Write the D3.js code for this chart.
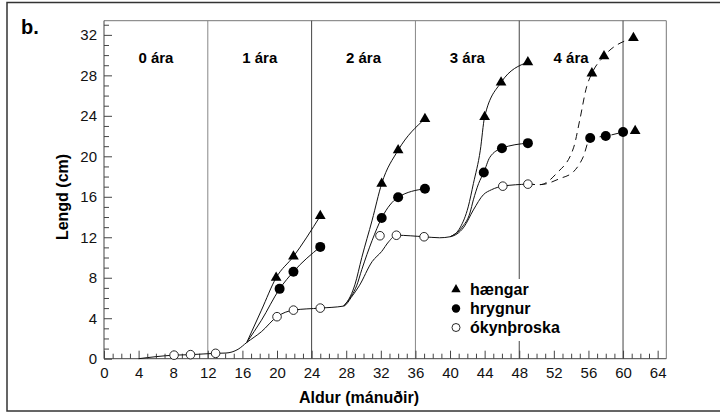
<!DOCTYPE html>
<html><head><meta charset="utf-8">
<script src="https://cdn.jsdelivr.net/npm/d3@7"></script>
<style>
html,body{margin:0;padding:0;background:#fff;}
svg{display:block;font-family:"Liberation Sans",Arial,sans-serif;}
</style></head>
<body><svg id="c" width="720" height="412"></svg>
<script>
// ---- data (months, length cm) ----
const xTickLabels = [0,4,8,12,16,20,24,28,32,36,40,44,48,52,56,60,64];
const yTickLabels = [0,4,8,12,16,20,24,28,32];
const yearLines = [12,24,36,48,60];
const yearLabels = ["0 ára","1 ára","2 ára","3 ára","4 ára"];
const yearLabelMonths = [6,18,30,42,54];
const legendLabels = ["hængar","hrygnur","ókynþroska"];

// marker points
const haengar = [[19.9,8.0],[21.9,10.1],[25.0,14.1],[32.1,17.3],[34.0,20.6],[37.1,23.7],
                 [44.0,23.9],[45.9,27.3],[49.0,29.3],[56.4,28.2],[57.8,29.9],[61.2,31.7],[61.4,22.5]];
const hrygnur = [[20.3,6.9],[21.9,8.6],[25.0,11.05],[32.1,13.9],[34.0,15.95],[37.1,16.8],
                 [43.9,18.4],[46.0,20.8],[49.0,21.3],[56.2,21.8],[58.0,22.0],[60.0,22.4]];
const okynthroska = [[8.1,0.35],[10.0,0.4],[12.9,0.53],[20.0,4.15],[21.9,4.8],[25.0,5.0],
                 [31.9,12.15],[33.8,12.2],[37.0,12.05],[46.1,17.05],[49.0,17.25]];

// growth curves (knots)
const curveOkyn = [[4,0],[8.1,0.35],[10.0,0.4],[12.9,0.53],[14.1,0.56],[15.5,0.93],[16.5,1.6],
                   [18.2,2.67],[20.0,4.15],[21.9,4.8],[25.0,5.0],[27.7,5.2],[28.7,6.2],[29.5,7.2],
                   [31.0,9.6],[32.1,10.6],[32.9,11.55],[33.8,12.2],[37.0,12.05],[38.8,11.95],[40.0,12.05],
                   [41.6,13.0],[42.7,14.7],[43.85,16.2],[44.8,16.7],[46.1,17.05],[49.0,17.25]];
const curveHaeng1 = [[16.5,1.6],[18.2,4.8],[19.9,8.0],[21.9,10.1],[25.0,14.1]];
const curveHryg1  = [[16.5,1.6],[18.2,3.8],[20.3,6.9],[21.9,8.6],[25.0,11.05]];
const curveHaeng2 = [[27.7,5.2],[28.5,6.2],[29.0,7.3],[29.8,10.0],[31.0,13.7],[32.1,17.3],[34.0,20.6],[37.1,23.7]];
const curveHryg2  = [[27.7,5.2],[28.6,6.2],[29.2,7.2],[29.8,8.8],[31.0,11.7],[32.1,13.9],[34.0,15.95],[37.1,16.8]];
const curveHaeng3 = [[40.0,12.05],[41.2,13.0],[42.1,15.0],[42.7,17.3],[43.5,20.6],[44.0,23.9],[45.9,27.3],[49.0,29.3]];
const curveHryg3  = [[40.0,12.05],[41.4,13.0],[42.3,14.4],[42.7,15.7],[43.3,17.3],[43.9,18.4],[44.6,19.9],[46.0,20.8],[49.0,21.3]];
const curveHaeng4 = [[49.0,17.25],[50.4,17.2],[52.3,18.3],[54.3,20.9],[55.0,23.6],[55.8,26.9],[56.4,28.2],[57.8,29.9],[61.2,31.7]];
const curveHryg4  = [[49.0,17.25],[50.4,17.2],[52.7,17.8],[54.3,18.5],[55.4,19.95],[56.2,21.8],[58.0,22.0],[60.0,22.4]];

// ---- drawing ----
const svg = d3.select("#c");
const x = d3.scaleLinear().domain([0,65]).range([104,666.3]);
const y = d3.scaleLinear().domain([0,33.4]).range([358.7,20.7]);

// outer frame
svg.append("rect").attr("x",7).attr("y",2.5).attr("width",730).attr("height",408.5)
  .attr("fill","none").attr("stroke","#333").attr("stroke-width",1.5);

svg.append("text").attr("x",21).attr("y",34).attr("font-size",20).attr("font-weight","bold").text("b.");

// plot box top/right
svg.append("line").attr("x1",x(0)).attr("x2",x(65)).attr("y1",y(33.4)).attr("y2",y(33.4)).attr("stroke","#777").attr("stroke-width",1);
svg.append("line").attr("x1",x(65)).attr("x2",x(65)).attr("y1",y(33.4)).attr("y2",y(0)).attr("stroke","#777").attr("stroke-width",1);

// year separators
svg.selectAll("line.yr").data(yearLines).join("line").attr("class","yr")
  .attr("x1",d=>x(d)).attr("x2",d=>x(d)).attr("y1",y(33.4)).attr("y2",y(0))
  .attr("stroke",(d,i)=> (d===12||d===36)?"#888":"#444").attr("stroke-width",1);

svg.selectAll("text.yl").data(yearLabels).join("text").attr("class","yl")
  .attr("x",(d,i)=>x(yearLabelMonths[i])).attr("y",63).attr("text-anchor","middle")
  .attr("font-size",15).attr("font-weight","bold").text(d=>d);

// axes
const yTicks = d3.range(0,34);
const yAxis = d3.axisLeft(y).tickValues(yTicks).tickSize(-5).tickPadding(7)
  .tickFormat(d=> yTickLabels.includes(d) ? d : "");
const gy = svg.append("g").attr("transform",`translate(${x(0)},0)`).call(yAxis);
gy.select(".domain").attr("d",`M0,${y(0)}V${y(33.4)}`).attr("stroke","#444");
gy.selectAll(".tick line").attr("x2",d=> d%4===0 ? 8 : 5).attr("stroke","#444");
gy.selectAll(".tick text").attr("font-size",15).attr("font-family","Liberation Sans, Arial, sans-serif").attr("fill","#111");

const xTicks = d3.range(0,65);
const xAxis = d3.axisBottom(x).tickValues(xTicks).tickSize(-5).tickPadding(9)
  .tickFormat(d=> xTickLabels.includes(d) ? d : "");
const gx = svg.append("g").attr("transform",`translate(0,${y(0)})`).call(xAxis);
gx.select(".domain").attr("d",`M${x(0)},0H${x(65)}`).attr("stroke","#444");
gx.selectAll(".tick line").attr("y2",d=> d%4===0 ? -8 : -5).attr("stroke","#444");
gx.selectAll(".tick text").attr("font-size",15).attr("font-family","Liberation Sans, Arial, sans-serif").attr("fill","#111");

svg.append("text").attr("x",359).attr("y",403).attr("text-anchor","middle")
  .attr("font-size",16).attr("font-weight","bold").text("Aldur (mánuðir)");
svg.append("text").attr("transform","translate(68,197) rotate(-90)").attr("text-anchor","middle")
  .attr("font-size",16).attr("font-weight","bold").text("Lengd (cm)");

// legend background (hides separator)
svg.append("rect").attr("x",448).attr("y",279).attr("width",115).attr("height",62).attr("fill","#fff");

// curves
const line = d3.line().x(d=>x(d[0])).y(d=>y(d[1])).curve(d3.curveMonotoneX);
const solid = [curveOkyn,curveHaeng1,curveHryg1,curveHaeng2,curveHryg2,curveHaeng3,curveHryg3];
const dashed = [curveHaeng4,curveHryg4];
svg.selectAll("path.solid").data(solid).join("path").attr("class","solid")
  .attr("d",line).attr("fill","none").attr("stroke","#111").attr("stroke-width",1);
svg.selectAll("path.dash").data(dashed).join("path").attr("class","dash")
  .attr("d",line).attr("fill","none").attr("stroke","#111").attr("stroke-width",1).attr("stroke-dasharray","7,5");

// markers
const tri = d3.symbol().type(d3.symbolTriangle).size(50);
svg.selectAll("path.tri").data(haengar).join("path").attr("class","tri")
  .attr("transform",d=>`translate(${x(d[0])},${y(d[1])})`).attr("d",tri).attr("fill","#000");
svg.selectAll("circle.fil").data(hrygnur).join("circle").attr("class","fil")
  .attr("cx",d=>x(d[0])).attr("cy",d=>y(d[1])).attr("r",5).attr("fill","#000");
svg.selectAll("circle.opn").data(okynthroska).join("circle").attr("class","opn")
  .attr("cx",d=>x(d[0])).attr("cy",d=>y(d[1])).attr("r",4.3).attr("fill","#fff").attr("stroke","#111").attr("stroke-width",0.9);

// legend
const lg = svg.append("g");
const ly = [289.5,308.5,327.5];
lg.append("path").attr("transform",`translate(456,${ly[0]})`).attr("d",d3.symbol().type(d3.symbolTriangle).size(38)()).attr("fill","#000");
lg.append("circle").attr("cx",456).attr("cy",ly[1]).attr("r",4.2).attr("fill","#000");
lg.append("circle").attr("cx",456).attr("cy",ly[2]).attr("r",4).attr("fill","#fff").attr("stroke","#111").attr("stroke-width",0.9);
lg.selectAll("text").data(legendLabels).join("text").attr("x",470).attr("y",(d,i)=>ly[i]+5.5)
  .attr("font-size",16).attr("font-weight","bold").text(d=>d);
</script></body></html>
